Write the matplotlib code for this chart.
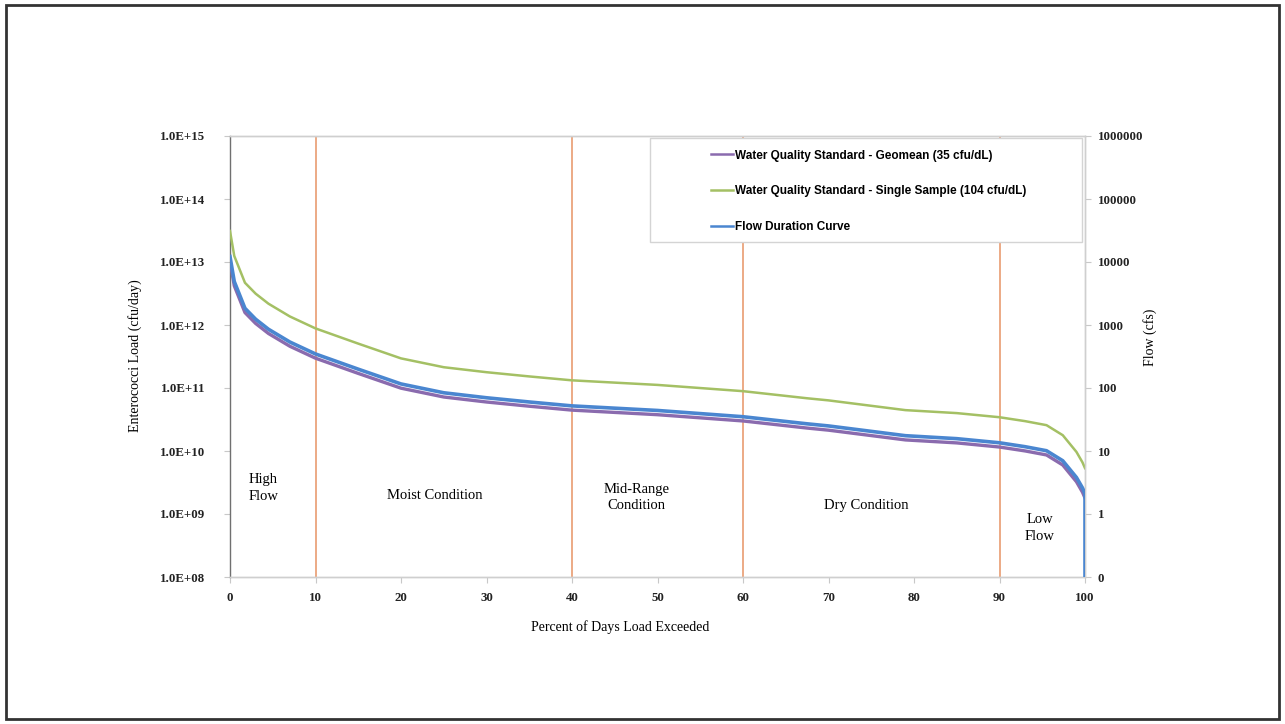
import numpy as np
import matplotlib.pyplot as plt
from matplotlib.patches import Rectangle
from matplotlib.ticker import FuncFormatter, FixedLocator

# Flow duration curve (percent of days exceeded, flow in cfs)
pct_exceeded = [0, 0.5, 1.75, 3, 4.5, 7, 10, 15, 20, 25, 30, 35, 40, 50, 60,
                67.5, 70, 79, 85, 90, 93, 95.5, 97.4, 99, 99.7, 100, 100]
flow_cfs = [12200, 4900, 1840, 1235, 856, 537, 347, 199, 116, 84, 70, 60, 52,
            44, 35, 27, 25, 17.5, 15.7, 13.5, 11.7, 10.1, 7.0, 3.8, 2.6, 2.1, 0.1]

# water quality standards (cfu/dL) and the cfs -> dL/day conversion
geomean_std = 35
single_std = 104
cfs_to_dl_day = 2.4466e7

zone_bounds = [10, 40, 60, 90]
left_ticks = [1e8, 1e9, 1e10, 1e11, 1e12, 1e13, 1e14, 1e15]
right_ticks = [0.1, 1, 10, 100, 1000, 10000, 100000, 1000000]

if __name__ == '__main__':
    pct = np.array(pct_exceeded)
    flow = np.array(flow_cfs)
    # loads only where flow is non-zero (last point is the drop to zero)
    geo_load = flow[:-1] * geomean_std * cfs_to_dl_day
    single_load = flow[:-1] * single_std * cfs_to_dl_day

    fig = plt.figure(figsize=(12.85, 7.24), dpi=100)
    ax = fig.add_axes([230 / 1285, 147 / 724, 855 / 1285, 441 / 724])
    ax2 = ax.twinx()

    serif = 'Liberation Serif'
    orange = '#EBA47C'
    purple = '#8A6BAE'
    green = '#A4C064'
    blue = '#4A86D0'

    for b in zone_bounds:
        ax.axvline(b, color=orange, lw=1.3, zorder=1)

    l1, = ax.plot(pct[:-1], geo_load, color=purple, lw=2.4, zorder=3,
                  label='Water Quality Standard - Geomean (35 cfu/dL)')
    l2, = ax.plot(pct[:-1], single_load, color=green, lw=1.8, zorder=3,
                  label='Water Quality Standard - Single Sample (104 cfu/dL)')
    l3, = ax2.plot(pct, flow, color=blue, lw=2.6, zorder=3,
                   label='Flow Duration Curve')

    ax.set_yscale('log')
    ax2.set_yscale('log')
    ax.set_xlim(0, 100)
    ax.set_ylim(1e8, 1e15)
    ax2.set_ylim(0.1, 1e6)

    ax.set_xticks(np.arange(0, 101, 10))
    ax.yaxis.set_major_locator(FixedLocator(left_ticks))
    ax.yaxis.set_minor_locator(FixedLocator([]))
    ax2.yaxis.set_major_locator(FixedLocator(right_ticks))
    ax2.yaxis.set_minor_locator(FixedLocator([]))
    ax.yaxis.set_major_formatter(FuncFormatter(lambda v, p: f'{v:.1E}'))
    ax2.yaxis.set_major_formatter(FuncFormatter(lambda v, p: f'{v:.0f}'))

    for a in (ax, ax2):
        a.tick_params(labelsize=9.3, length=4, color='#c8c8c8', width=0.8,
                      labelcolor='#222222')
        for lab in a.get_xticklabels() + a.get_yticklabels():
            lab.set_fontfamily(serif)
            lab.set_fontweight('bold')
        for s in a.spines.values():
            s.set_color('#cfcfcf')
            s.set_linewidth(1.0)
    ax.tick_params(axis='y', pad=14)
    ax.tick_params(axis='x', pad=7)
    ax2.tick_params(axis='y', pad=5)
    ax2.spines['left'].set_visible(False)
    ax.spines['left'].set_color('#707070')

    kw = dict(family=serif, fontsize=10.5, va='center', linespacing=1.35)
    ax.text(2.2, 2.6e9, 'High\nFlow', ha='left', **kw)
    ax.text(23.9, 1.97e9, 'Moist Condition', ha='center', **kw)
    ax.text(47.5, 1.84e9, 'Mid-Range\nCondition', ha='center', **kw)
    ax.text(74.4, 1.37e9, 'Dry Condition', ha='center', **kw)
    ax.text(94.7, 5.95e8, 'Low\nFlow', ha='center', **kw)

    fig.text(620 / 1285, 1 - 627 / 724, 'Percent of Days Load Exceeded',
             family=serif, fontsize=10, ha='center', va='center')
    fig.text(135 / 1285, 1 - 356 / 724, 'Enterococci Load (cfu/day)',
             family=serif, fontsize=10, ha='center', va='center', rotation=90)
    fig.text(1150 / 1285, 1 - 337 / 724, 'Flow (cfs)',
             family=serif, fontsize=10, ha='center', va='center', rotation=90)

    # legend box
    fig.patches.append(Rectangle((650 / 1285, 1 - 242 / 724), 432 / 1285,
                                 104 / 724, transform=fig.transFigure,
                                 facecolor='white', edgecolor='#d4d4d4',
                                 lw=1.0, zorder=5))
    leg = fig.legend(handles=[l1, l2, l3], loc='upper left',
                     bbox_to_anchor=(700 / 1285, 1 - 139 / 724),
                     frameon=False, handlelength=1.9, handletextpad=0.15,
                     labelspacing=2.0,
                     prop={'family': 'Liberation Sans', 'weight': 'bold',
                           'size': 8.5})
    for h in leg.get_lines():
        h.set_linewidth(1.8)
    leg.set_zorder(6)

    # outer page frame
    fig.patches.append(Rectangle((6 / 1285, 5 / 724), 1273 / 1285, 714 / 724,
                                 transform=fig.transFigure, facecolor='none',
                                 edgecolor='#333333', lw=2.0))

    fig.savefig('out.png', dpi=100)
